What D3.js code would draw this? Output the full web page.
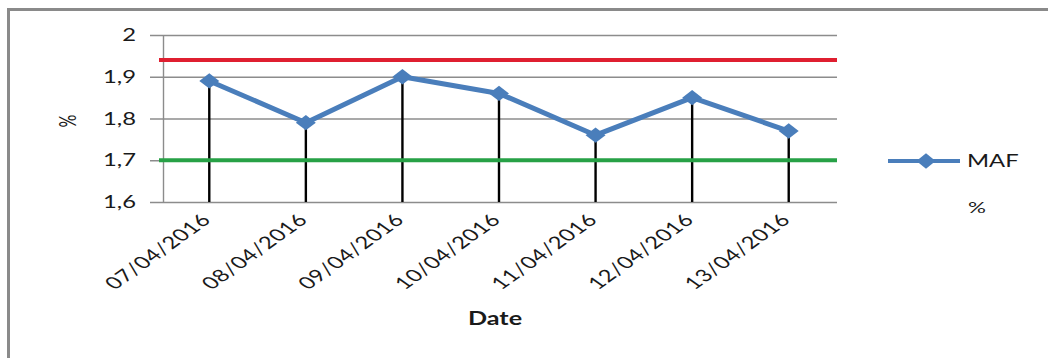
<!DOCTYPE html>
<html>
<head>
<meta charset="utf-8">
<script src="https://cdn.jsdelivr.net/npm/d3@7"></script>
<style>
  html, body { margin: 0; padding: 0; background: #fff; }
  svg { display: block; }
  text { font-family: Lato, "Open Sans", sans-serif; fill: #1a1a1a; }
</style>
</head>
<body>
<svg id="chart" width="1048" height="358"></svg>
<script>
// MAF readings per day (%)
const dates = ["07/04/2016", "08/04/2016", "09/04/2016", "10/04/2016", "11/04/2016", "12/04/2016", "13/04/2016"];
const mafValues = [1.89, 1.79, 1.90, 1.86, 1.76, 1.85, 1.77];
const yTicks = [1.6, 1.7, 1.8, 1.9, 2];
const upperLimit = 1.94;
const lowerLimit = 1.70;
const seriesName = "MAF";
const seriesUnit = "%";

const svg = d3.select("#chart");
const W = 1048, H = 358;
const SX = 1.4; // horizontal text stretch

// outer chart frame
svg.append("rect")
  .attr("x", 8.5).attr("y", 9.5)
  .attr("width", W + 20).attr("height", H + 20)
  .attr("fill", "#fff")
  .attr("stroke", "#8a8a8a").attr("stroke-width", 3);

const plot = { left: 161, right: 837, top: 35, bottom: 202 };

const x = d3.scalePoint().domain(dates).range([plot.left, plot.right]).padding(0.5);
const y = d3.scaleLinear().domain([1.6, 2]).range([plot.bottom, plot.top]);
const fmt = d => d3.format("")(d).replace(".", ",");

// horizontal gridlines with tick stubs
const grid = svg.append("g");
grid.selectAll("line").data(yTicks).join("line")
  .attr("x1", 150).attr("x2", plot.right)
  .attr("y1", d => y(d) + 0.5).attr("y2", d => y(d) + 0.5)
  .attr("stroke", "#8c8c8c").attr("stroke-width", 1.4);

// vertical axis line
svg.append("line")
  .attr("x1", 163.5).attr("x2", 163.5)
  .attr("y1", y(2)).attr("y2", y(1.6))
  .attr("stroke", "#8c8c8c").attr("stroke-width", 1.4);

// y tick labels
svg.append("g").selectAll("text").data(yTicks).join("text")
  .attr("transform", d => `translate(136,${y(d)}) scale(${SX},1)`)
  .attr("text-anchor", "end")
  .attr("dy", "0.36em")
  .style("font-size", "17px")
  .text(fmt);

// y axis title
svg.append("text")
  .attr("transform", `translate(68,121) rotate(-90) scale(1,${SX})`)
  .attr("text-anchor", "middle")
  .attr("dy", "0.35em")
  .style("font-size", "16px")
  .text(seriesUnit);

// drop lines from each point to the axis
svg.append("g").selectAll("line").data(mafValues).join("line")
  .attr("x1", (d, i) => x(dates[i])).attr("x2", (d, i) => x(dates[i]))
  .attr("y1", d => y(d)).attr("y2", y(1.6))
  .attr("stroke", "#000").attr("stroke-width", 2.4);

// limit lines
svg.append("line")
  .attr("x1", 159).attr("x2", plot.right)
  .attr("y1", y(upperLimit)).attr("y2", y(upperLimit))
  .attr("stroke", "#df1f30").attr("stroke-width", 4);
svg.append("line")
  .attr("x1", 159).attr("x2", plot.right)
  .attr("y1", y(lowerLimit)).attr("y2", y(lowerLimit))
  .attr("stroke", "#27a146").attr("stroke-width", 4);

// series line
const blue = "#4a7ebb";
const line = d3.line().x((d, i) => x(dates[i])).y(d => y(d));
svg.append("path")
  .datum(mafValues)
  .attr("d", line)
  .attr("fill", "none")
  .attr("stroke", blue).attr("stroke-width", 5)
  .attr("stroke-linejoin", "round");

const diamond = d3.symbol().type(d3.symbolDiamond2).size(150);
svg.append("g").selectAll("path").data(mafValues).join("path")
  .attr("transform", (d, i) => `translate(${x(dates[i])},${y(d)}) scale(1.3,1)`)
  .attr("d", diamond)
  .attr("fill", blue);

// x tick labels, rotated
svg.append("g").selectAll("text").data(dates).join("text")
  .attr("transform", d => `translate(${x(d) + 3},${221}) scale(${SX},1) rotate(-45)`)
  .attr("text-anchor", "end")
  .style("font-size", "17px")
  .style("letter-spacing", "0.4px")
  .text(d => d);

// x axis title
svg.append("text")
  .attr("transform", `translate(495,325) scale(${SX},1)`)
  .attr("text-anchor", "middle")
  .style("font-size", "18px")
  .style("font-weight", "bold")
  .text("Date");

// legend
const lg = svg.append("g");
lg.append("line")
  .attr("x1", 888).attr("x2", 960).attr("y1", 161).attr("y2", 161)
  .attr("stroke", blue).attr("stroke-width", 4);
lg.append("path")
  .attr("transform", "translate(926,161) scale(1.25,1)")
  .attr("d", diamond).attr("fill", blue);
lg.append("text")
  .attr("transform", `translate(967,167) scale(${SX},1)`)
  .style("font-size", "17px")
  .text(seriesName);
lg.append("text")
  .attr("transform", `translate(968,213) scale(${SX},1)`)
  .style("font-size", "16px")
  .text(seriesUnit);
</script>
</body>
</html>
